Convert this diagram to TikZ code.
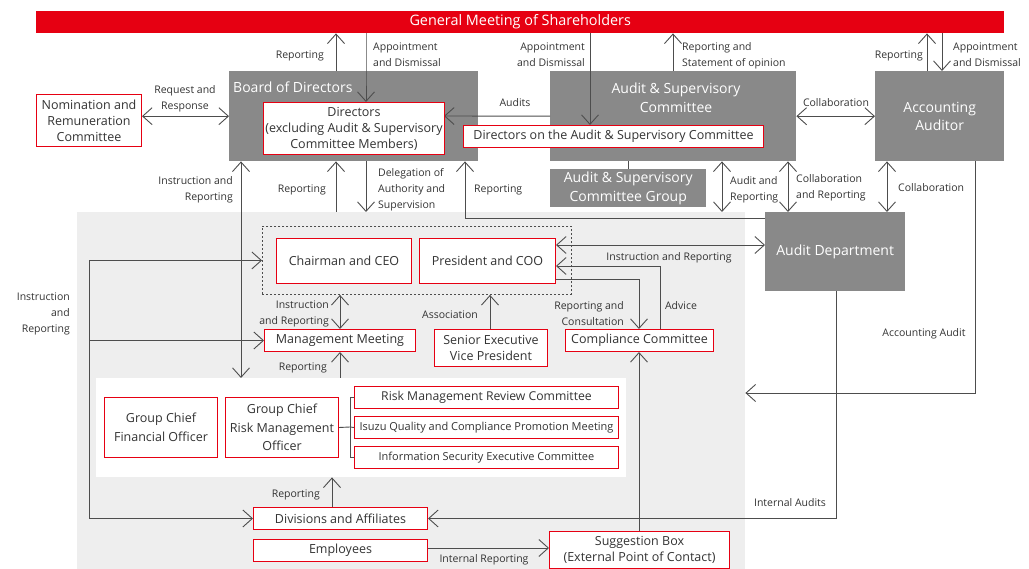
\documentclass[tikz,border=0pt]{standalone}
\usepackage{fontspec}
\setmainfont{Open Sans}
\usetikzlibrary{arrows.meta}
\definecolor{ired}{HTML}{E60012}
\definecolor{gboxc}{HTML}{898989}
\definecolor{bgc}{HTML}{EEEEEE}
\definecolor{lc}{HTML}{4D4D4D}
\definecolor{tc}{HTML}{333333}
\tikzset{
  rbox/.style={draw=ired, line width=1pt, fill=white, inner sep=0pt, anchor=north west, align=center, text=tc, font=\fontsize{12.5}{16}\selectfont},
  gbox/.style={fill=gboxc, inner sep=0pt, anchor=north west, align=center, text=white, font=\fontsize{14}{18.5}\selectfont},
  wtext/.style={text=white, font=\fontsize{14}{18.5}\selectfont, align=center, inner sep=0pt},
  lbl/.style={text=tc, font=\fontsize{10.5}{16}\selectfont, inner sep=0pt, yshift=-1.5pt},
  tipv/.tip={Straight Barb[length=9.5pt,width=17pt,line width=0.9pt]},
  arr/.style={draw=lc, line width=0.9pt, -tipv},
  dbl/.style={draw=lc, line width=0.9pt, tipv-tipv},
  plain/.style={draw=lc, line width=0.9pt},
}
\begin{document}
\begin{tikzpicture}[x=1pt,y=-1pt]
\useasboundingbox (0,0) rectangle (1029,569);
% backgrounds
\node[fill=bgc, inner sep=0pt, anchor=north west, minimum width=668pt, minimum height=357pt] (bg) at (77,212) {};
\node[fill=white, inner sep=0pt, anchor=north west, minimum width=530pt, minimum height=99pt] (panel) at (96,378) {};
\node[draw=lc, line width=0.9pt, dash pattern=on 2pt off 2pt, inner sep=0pt, anchor=north west, minimum width=309pt, minimum height=68pt] (exec) at (262,226) {};
% gray boxes
\node[fill=ired, inner sep=0pt, anchor=north west, minimum width=968pt, minimum height=22pt, text=white, font=\fontsize{14.4}{18}\selectfont] (gms) at (36,11) {General Meeting of Shareholders};
\node[gbox, minimum width=249pt, minimum height=90pt] (board) at (229,71) {};
\node[wtext, anchor=west] (boardt) at (233,87) {Board of Directors};
\node[gbox, minimum width=246pt, minimum height=90pt] (asc) at (550,71) {};
\node[wtext] (asct) at (676,98) {Audit \& Supervisory\\Committee};
\node[gbox, minimum width=129pt, minimum height=90pt] (aa) at (875,71) {Accounting\\Auditor};
\node[gbox, minimum width=156pt, minimum height=38pt] (ascg) at (550,169) {Audit \& Supervisory\\Committee Group};
\node[gbox, minimum width=140pt, minimum height=79pt] (ad) at (765,212) {Audit Department};
% x / y helper coordinates
\foreach \x in {89,241,332,336,340,366,465,490,590,639,660,673,722,788,836,887,927,942,975}{\coordinate (x\x) at (\x,0);}
\foreach \y in {218,245,266,279,393,548}{\coordinate (y\y) at (0,\y);}
% connectors
\draw[plain] (ascg.north |- asc.south) -- (ascg.north);
\draw[arr] (x336 |- board.north) -- (x336 |- gms.south);
\draw[arr] (x366 |- gms.south) -- (x366 |- board.north) -- (x366 |- 0,102);
\draw[arr] (x590 |- gms.south) -- (x590 |- 0,125);
\draw[arr] (x673 |- asc.north) -- (x673 |- gms.south);
\draw[arr] (x927 |- aa.north) -- (x927 |- gms.south);
\draw[arr] (x942 |- gms.south) -- (x942 |- aa.north);
\draw[arr] (asc.west) -- (444,116);
\draw[dbl] (asc.east) -- (aa.west);
\draw[dbl] (x241 |- board.south) -- (x241 |- panel.north);
\draw[arr] (x336 |- bg.north) -- (x336 |- board.south);
\draw[arr] (x366 |- board.south) -- (x366 |- bg.north);
\draw[arr] (ad.west |- y218) -| (x465 |- board.south);
\draw[dbl] (x722 |- asc.south) -- (x722 |- bg.north);
\draw[dbl] (x788 |- asc.south) -- (x788 |- ad.north);
\draw[dbl] (x887 |- aa.south) -- (x887 |- ad.north);
\draw[arr] (x975 |- aa.south) |- (bg.east |- y393);
% white boxes top
\node[rbox, minimum width=105pt, minimum height=52pt] (nrc) at (36,94) {Nomination and\\Remuneration\\Committee};
\draw[dbl] (nrc.east |- board.west) -- (board.west);
\node[rbox, minimum width=181pt, minimum height=52pt] (directors) at (263,102) {Directors\\(excluding Audit \& Supervisory\\Committee Members)};
\node[rbox, minimum width=300pt, minimum height=22pt] (dasc) at (463,125) {Directors on the Audit \& Supervisory Committee};
% executive area
\node[rbox, minimum width=135pt, minimum height=45pt] (ceo) at (276,238) {Chairman and CEO};
\node[rbox, minimum width=136pt, minimum height=45pt] (coo) at (419,238) {President and COO};
\node[rbox, minimum width=151pt, minimum height=22pt] (mm) at (264,329) {Management Meeting};
\node[rbox, minimum width=113pt, minimum height=37pt] (sevp) at (434,329) {Senior Executive\\Vice President};
\node[rbox, minimum width=148pt, minimum height=22pt] (cc) at (565,329) {Compliance Committee};
\node[rbox, minimum width=113pt, minimum height=60pt, font=\fontsize{12.5}{19}\selectfont] (gcfo) at (104,397) {Group Chief\\Financial Officer};
\node[rbox, minimum width=113pt, minimum height=60pt, font=\fontsize{12.5}{18.5}\selectfont] (gcrmo) at (225,397) {Group Chief\\Risk Management\\Officer};
\node[rbox, minimum width=264pt, minimum height=22pt, font=\fontsize{12.2}{14}\selectfont] (rmrc) at (354,386) {Risk Management Review Committee};
\node[rbox, minimum width=264pt, minimum height=22pt, font=\fontsize{11}{14}\selectfont] (iqc) at (354,416) {Isuzu Quality and Compliance Promotion Meeting};
\node[rbox, minimum width=264pt, minimum height=22pt, font=\fontsize{11}{14}\selectfont] (isec) at (354,446) {Information Security Executive Committee};
\node[rbox, minimum width=174pt, minimum height=22pt] (div) at (253,507) {Divisions and Affiliates};
\node[rbox, minimum width=174pt, minimum height=22pt] (emp) at (253,539) {Employees};
\node[rbox, minimum width=180pt, minimum height=37pt] (sb) at (549,531) {Suggestion Box\\(External Point of Contact)};
\coordinate (br) at (350,427);
\draw[plain] (gcrmo.east) -- (br);
\draw[plain] (rmrc.west) -| (br);
\draw[plain] (iqc.west) -- (br);
\draw[plain] (isec.west) -| (br);
\draw[arr] (x836 |- ad.south) |- (div.east);
\draw[dbl] (coo.east |- y245) -- (ad.west |- y245);
\draw[arr] (x660 |- cc.north) |- (coo.east |- y266);
\draw[arr] (coo.east |- y279) -| (x639 |- cc.north);
\draw[arr] (x639 |- sb.north) -- (x639 |- cc.south);
\draw[dbl] (x340 |- exec.south) -- (x340 |- mm.north);
\draw[arr] (x490 |- sevp.north) -- (x490 |- exec.south);
\draw[arr] (x340 |- panel.north) -- (x340 |- mm.south);
\draw[arr] (x89 |- exec.west) -- (exec.west);
\draw[arr] (x89 |- mm.west) -- (mm.west);
\draw[arr] (x89 |- exec.west) |- (div.west);
\draw[arr] (x332 |- div.north) -- (x332 |- panel.south);
\draw[arr] (emp.east |- y548) -- (sb.west |- y548);
% labels
\node[lbl, anchor=east] (l1) at (324,54) {Reporting};
\node[lbl, anchor=west, align=left] (l2) at (373,53) {Appointment\\and Dismissal};
\node[lbl, anchor=east, align=right] (l3) at (585,53) {Appointment\\and Dismissal};
\node[lbl, anchor=west, align=left] (l4) at (682,54) {Reporting and\\Statement of opinion};
\node[lbl, anchor=east] (l5) at (923,54) {Reporting};
\node[lbl, anchor=west, align=left] (l6) at (953,53) {Appointment\\and Dismissal};
\node[lbl, align=center] (l7) at (185,97) {Request and\\Response};
\node[lbl] (l8) at (515,101) {Audits};
\node[lbl] (l9) at (836,101) {Collaboration};
\node[lbl, anchor=east, align=right] (l10) at (233,188) {Instruction and\\Reporting};
\node[lbl, anchor=east] (l11) at (326,188) {Reporting};
\node[lbl, anchor=west, align=left] (l12) at (378,188) {Delegation of\\Authority and\\Supervision};
\node[lbl, anchor=west] (l13) at (474,188) {Reporting};
\node[lbl, anchor=west, align=left] (l14) at (730,188) {Audit and\\Reporting};
\node[lbl, anchor=west, align=left] (l15) at (796,186) {Collaboration\\and Reporting};
\node[lbl, anchor=west] (l16) at (898,186) {Collaboration};
\node[lbl] (l17) at (669,256) {Instruction and Reporting};
\node[lbl, anchor=east, align=right] (l18) at (70,312) {Instruction\\and\\Reporting};
\node[lbl, anchor=east, align=right] (l19) at (329,312) {Instruction\\and Reporting};
\node[lbl] (l20) at (450,313) {Association};
\node[lbl, anchor=east, align=right] (l21) at (624,312) {Reporting and\\Consultation};
\node[lbl] (l22) at (681,304) {Advice};
\node[lbl] (l23) at (924,332) {Accounting Audit};
\node[lbl, anchor=east] (l24) at (327,366) {Reporting};
\node[lbl, anchor=east] (l25) at (320,493) {Reporting};
\node[lbl] (l26) at (790,501) {Internal Audits};
\node[lbl] (l27) at (484,558) {Internal Reporting};
\end{tikzpicture}
\end{document}
